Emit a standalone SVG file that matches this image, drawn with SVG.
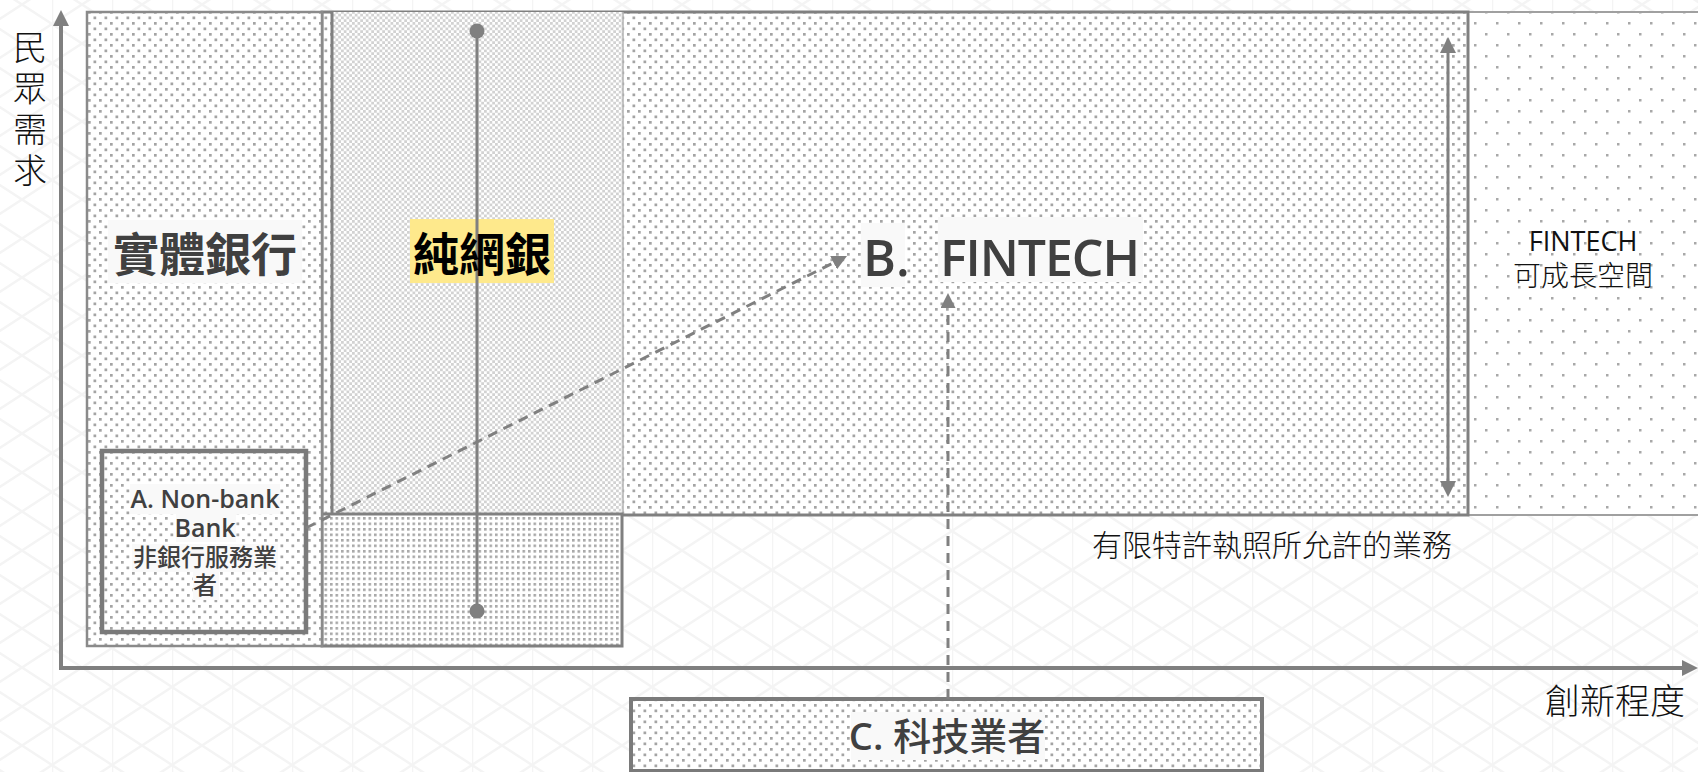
<svg xmlns="http://www.w3.org/2000/svg" width="1698" height="772" viewBox="0 0 1698 772">
<defs>
<style>
.lat{font-family:"Open Sans","Noto Sans","Noto Sans CJK TC",sans-serif}
.cjk{font-family:"Noto Sans CJK TC","Noto Sans CJK SC",sans-serif}
.lbl{fill:#404040}
.thin{fill:#111;font-weight:300}
.tbg{fill:#f9f9f9}
.conn{stroke:#808080;stroke-width:3;fill:none}
.dash{stroke-dasharray:10 7}
</style>
<pattern id="bgpat" patternUnits="userSpaceOnUse" x="52" y="24" width="60" height="78">
<path d="M0 0V78M0 0L60 39M0 39L60 78M0 39L60 0M0 78L60 39" stroke="#f4f4f4" stroke-width="2.5" fill="none"/>
</pattern>
<pattern id="p5" patternUnits="userSpaceOnUse" width="22" height="22">
<rect width="22" height="22" fill="#fff"/>
<rect x="0" y="0" width="2.5" height="2.5" fill="#a8a8a8"/>
<rect x="11" y="11" width="2.5" height="2.5" fill="#a8a8a8"/>
</pattern>
<pattern id="p20" patternUnits="userSpaceOnUse" width="11" height="11">
<rect width="11" height="11" fill="#fff"/>
<rect x="0" y="0" width="2.7" height="2.7" fill="#a4a4a4"/>
<rect x="5.5" y="5.5" width="2.7" height="2.7" fill="#a4a4a4"/>
</pattern>
<pattern id="p25" patternUnits="userSpaceOnUse" width="5.5" height="5.5">
<rect width="5.5" height="5.5" fill="#fff"/>
<rect x="0" y="0" width="2.6" height="2.6" fill="#a8a8a8"/>
</pattern>
<pattern id="p50" patternUnits="userSpaceOnUse" width="5.5" height="5.5">
<rect width="5.5" height="5.5" fill="#fff"/>
<rect x="0" y="0" width="2.75" height="2.75" fill="#d2d2d2"/>
<rect x="2.75" y="2.75" width="2.75" height="2.75" fill="#d2d2d2"/>
</pattern>
<marker id="ah" viewBox="0 0 16 16" refX="0" refY="8" markerWidth="16" markerHeight="16" markerUnits="userSpaceOnUse" orient="auto-start-reverse">
<path d="M0 0L16 8L0 16z" fill="#808080"/>
</marker>
<marker id="ah2" viewBox="0 0 15 15" refX="0" refY="7.5" markerWidth="15" markerHeight="15" markerUnits="userSpaceOnUse" orient="auto">
<path d="M0 0L15 7.5L0 15z" fill="#808080"/>
</marker>
</defs>

<rect width="1698" height="772" fill="#fff"/>
<rect width="1698" height="772" fill="url(#bgpat)"/>

<g id="growth-space">
<rect x="1468" y="12" width="240" height="503" fill="url(#p5)" stroke="#a0a0a0" stroke-width="2"/>
<text class="lat" x="1583" y="251" font-size="27" fill="#111" text-anchor="middle">FINTECH</text>
<text class="cjk thin" x="1583" y="286" font-size="28" text-anchor="middle">可成長空間</text>
</g>

<g id="fintech-area">
<rect x="322" y="12" width="1146" height="503" fill="url(#p20)" stroke="#808080" stroke-width="3"/>
<rect class="tbg" x="861" y="223" width="44" height="64"/>
<text class="lat lbl" x="863" y="276" font-size="50" font-weight="600">B.</text>
<rect class="tbg" x="938" y="217" width="205" height="65"/>
<text class="lat lbl" x="940" y="276" font-size="50" font-weight="600" textLength="200">FINTECH</text>
</g>

<g id="license-label">
<text class="cjk thin" x="1272" y="556" font-size="30" text-anchor="middle">有限特許執照所允許的業務</text>
</g>

<g id="online-bank">
<rect x="332" y="12" width="291" height="502" fill="url(#p50)"/>
<line x1="623" y1="12" x2="623" y2="514" stroke="#b0b0b0" stroke-width="1.5"/>
<line x1="332" y1="12" x2="332" y2="515" stroke="#808080" stroke-width="3"/>
<rect x="322" y="514" width="300" height="132" fill="url(#p25)" stroke="#808080" stroke-width="3"/>
</g>

<g id="physical-bank">
<rect x="87" y="12" width="235" height="634" fill="url(#p20)" stroke="#8a8a8a" stroke-width="2.5"/>
<rect class="tbg" x="108" y="220" width="194" height="63"/>
<text class="cjk lbl" x="205" y="271" font-size="46" font-weight="700" text-anchor="middle">實體銀行</text>
</g>

<g id="node-a">
<rect x="102" y="451" width="204" height="181" fill="url(#p20)" stroke="#7a7a7a" stroke-width="4.5"/>
<rect class="tbg" x="130" y="484" width="150" height="30"/>
<rect class="tbg" x="176" y="514" width="60" height="28"/>
<rect class="tbg" x="132" y="544" width="146" height="28"/>
<rect class="tbg" x="193" y="572" width="26" height="28"/>
<text class="lat lbl" font-size="25" font-weight="600" text-anchor="middle"><tspan x="205" y="508">A. Non-bank</tspan><tspan x="205" y="537">Bank</tspan><tspan class="cjk" x="205" y="566" font-size="24" font-weight="500">非銀行服務業</tspan><tspan class="cjk" x="205" y="594" font-size="24" font-weight="500">者</tspan></text>
</g>

<g id="node-c">
<rect x="631" y="699" width="631" height="72" fill="url(#p20)" stroke="#7a7a7a" stroke-width="4"/>
<rect class="tbg" x="851" y="712" width="194" height="48"/>
<text class="lat lbl" x="947" y="750" font-size="38" font-weight="600" text-anchor="middle">C. <tspan class="cjk" font-weight="500">科技業者</tspan></text>
</g>

<g id="axes">
<line x1="61" y1="670" x2="61" y2="26" stroke="#7f7f7f" stroke-width="4" marker-end="url(#ah)"/>
<line x1="59" y1="668" x2="1682" y2="668" stroke="#7f7f7f" stroke-width="4" marker-end="url(#ah)"/>
<text class="cjk thin" x="30" y="30" font-size="34" writing-mode="tb" letter-spacing="7">民眾需求</text>
<text class="cjk thin" x="1615" y="714" font-size="35" text-anchor="middle">創新程度</text>
</g>

<g id="onlinebank-label">
<rect x="410" y="219" width="144" height="64" fill="#fee98c"/>
</g>

<g id="connectors">
<line class="conn" x1="477" y1="31" x2="477" y2="611" stroke-width="3.5"/>
<circle cx="477" cy="31" r="7.5" fill="#808080"/>
<circle cx="477" cy="611" r="7.5" fill="#808080"/>
<line class="conn dash" x1="306" y1="528" x2="833.6" y2="262.7" marker-end="url(#ah2)"/>
<line class="conn dash" x1="948" y1="699" x2="948" y2="308" marker-end="url(#ah2)"/>
<line class="conn" x1="1448" y1="53" x2="1448" y2="481" stroke-width="4" marker-start="url(#ah)" marker-end="url(#ah)"/>
</g>

<g id="onlinebank-text">
<text class="cjk" x="482" y="271" font-size="46" font-weight="700" fill="#000" text-anchor="middle">純網銀</text>
</g>
</svg>
